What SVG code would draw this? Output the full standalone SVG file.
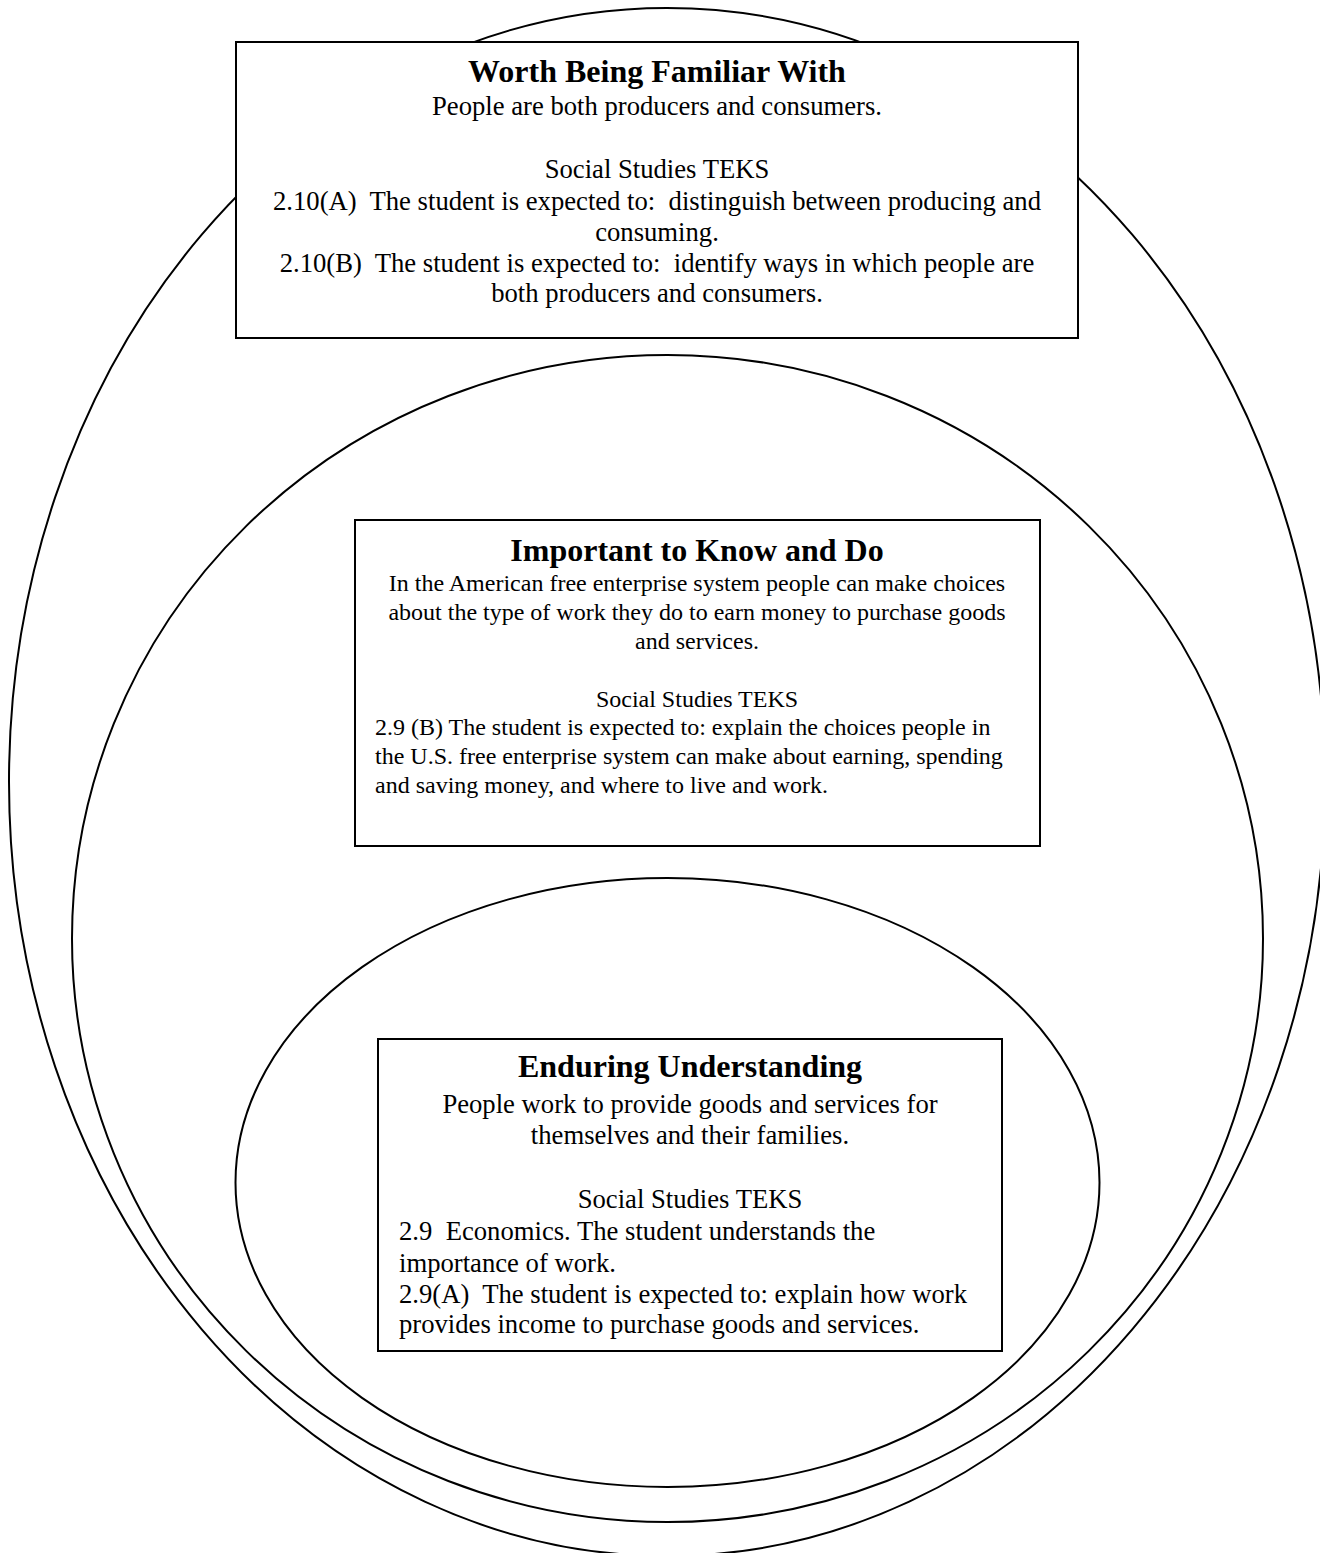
<svg xmlns="http://www.w3.org/2000/svg" width="1320" height="1553" viewBox="0 0 1320 1553">
<style>
.ring{fill:#fff;stroke:#000;stroke-width:2}
.box{fill:#fff;stroke:#000;stroke-width:2}
text{font-family:"Liberation Serif","Times New Roman",serif;fill:#000;white-space:pre}
.t{font-size:32px;font-weight:bold;text-anchor:middle}
.c{font-size:26.67px;text-anchor:middle}
.l{font-size:26.67px}
.cs{font-size:24px;text-anchor:middle}
.ls{font-size:24px}
</style>
<rect width="1320" height="1553" fill="#fff"/>
<g id="ring-outer"><ellipse class="ring" cx="667" cy="782" rx="658" ry="774"/></g>
<g id="ring-middle"><ellipse class="ring" cx="667.5" cy="938.5" rx="595.5" ry="583.5"/></g>
<g id="ring-inner"><ellipse class="ring" cx="667.5" cy="1182.5" rx="432" ry="304.5"/></g>
<g id="worth-being-familiar">
<rect class="box" x="236" y="42" width="842" height="296"/>
<text class="t" x="657" y="82">Worth Being Familiar With</text>
<text class="c" x="657" y="115">People are both producers and consumers.</text>
<text class="c" x="657" y="178">Social Studies TEKS</text>
<text class="c" x="657" y="210">2.10(A)  The student is expected to:  distinguish between producing and</text>
<text class="c" x="657" y="241">consuming.</text>
<text class="c" x="657" y="272">2.10(B)  The student is expected to:  identify ways in which people are</text>
<text class="c" x="657" y="302">both producers and consumers.</text>
</g>
<g id="important-to-know">
<rect class="box" x="355" y="520" width="685" height="326"/>
<text class="t" x="697" y="561">Important to Know and Do</text>
<text class="cs" x="697" y="591">In the American free enterprise system people can make choices</text>
<text class="cs" x="697" y="620">about the type of work they do to earn money to purchase goods</text>
<text class="cs" x="697" y="649">and services.</text>
<text class="cs" x="697" y="707">Social Studies TEKS</text>
<text class="ls" x="375" y="735">2.9 (B) The student is expected to: explain the choices people in</text>
<text class="ls" x="375" y="764">the U.S. free enterprise system can make about earning, spending</text>
<text class="ls" x="375" y="793">and saving money, and where to live and work.</text>
</g>
<g id="enduring-understanding">
<rect class="box" x="378" y="1039" width="624" height="312"/>
<text class="t" x="690" y="1077">Enduring Understanding</text>
<text class="c" x="690" y="1113">People work to provide goods and services for</text>
<text class="c" x="690" y="1144">themselves and their families.</text>
<text class="c" x="690" y="1208">Social Studies TEKS</text>
<text class="l" x="399" y="1240">2.9  Economics. The student understands the</text>
<text class="l" x="399" y="1272">importance of work.</text>
<text class="l" x="399" y="1303">2.9(A)  The student is expected to: explain how work</text>
<text class="l" x="399" y="1333">provides income to purchase goods and services.</text>
</g>
</svg>
